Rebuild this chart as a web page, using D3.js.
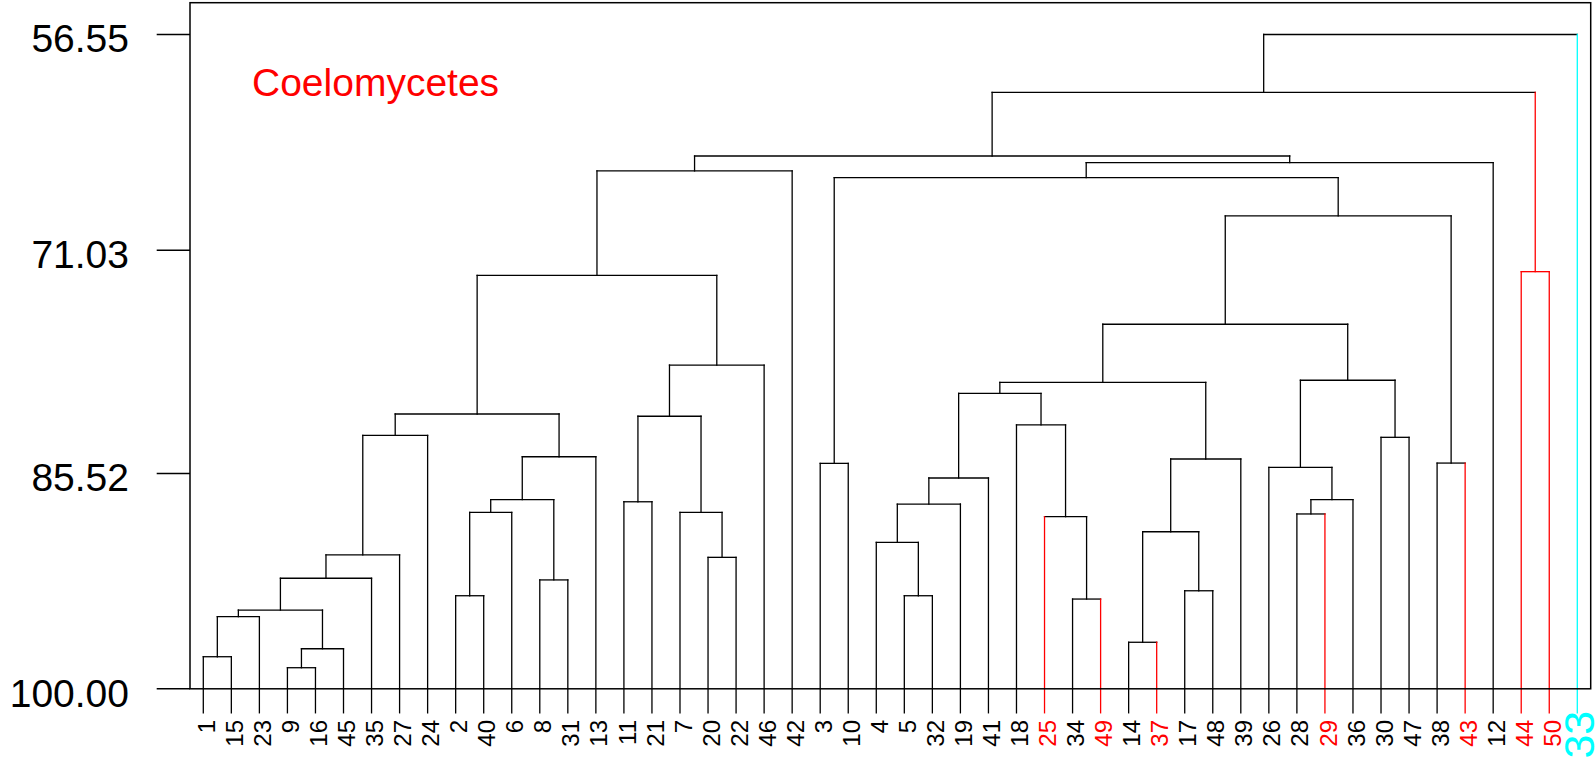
<!DOCTYPE html>
<html>
<head>
<meta charset="utf-8">
<script src="https://cdn.jsdelivr.net/npm/d3@7"></script>
<style>
  html, body { margin: 0; padding: 0; background: #fff; }
  svg { display: block; }
</style>
</head>
<body>
<svg id="chart" width="1596" height="771"></svg>
<script>
// ---- data ----
const leafOrder = [1,15,23,9,16,45,35,27,24,2,40,6,8,31,13,11,21,7,20,22,46,42,3,10,4,5,32,19,41,18,25,34,49,14,37,17,48,39,26,28,29,36,30,47,38,43,12,44,50,33];
// hclust-style merges: negative = leaf label, positive = earlier merge (1-based)
const mergeA = [-1,1,-9,3,2,5,6,7,-2,9,-8,10,12,8,-11,-20,-7,15,18,14,20,-3,-5,-4,24,25,-34,-25,-18,26,-14,-17,31,33,30,-28,36,-26,-30,38,35,-38,41,22,44,21,-44,46,48];
const mergeB = [-15,-23,-16,-45,4,-35,-27,-24,-40,-6,-31,11,-13,13,-21,-22,16,17,-46,19,-42,-10,-32,23,-19,-41,-49,27,28,29,-37,-48,32,-39,34,-29,-36,37,-47,39,40,-43,42,43,-12,45,-50,47,-33];
const mergeHeight = [97.87,95.21,98.60,97.34,94.77,92.66,91.11,83.17,93.82,88.28,92.77,87.44,84.59,81.75,87.58,91.27,88.28,81.90,78.50,72.54,65.61,85.03,93.82,90.27,87.73,86.00,94.04,88.57,82.48,80.38,96.91,93.49,89.57,84.74,79.65,88.39,87.44,85.29,83.30,79.51,75.79,85.01,68.60,66.06,65.06,64.62,72.30,60.39,56.55];
const redLeaves = [25,49,37,29,43,44,50];
const cyanLeaves = [33];
const redMerges = [47];
const tickLabels = ["100.00","85.52","71.03","56.55"];
const tickAt = [100, 85.70, 70.87, 56.55];
const groupTitle = "Coelomycetes";

// ---- styles ----
const RED = "#FF0000", CYAN = "#00FFFF", BLACK = "#000000";
const FONT = "'Liberation Sans', Arial, Helvetica, sans-serif";

const svg = d3.select("#chart");
svg.append("rect").attr("width",1596).attr("height",771).attr("fill","#fff");

const y = d3.scaleLinear().domain([100, 56.55]).range([688.8, 34.5]);
const x = d3.scalePoint().domain(leafOrder).range([203.3, 1577.3]);
const leafHang = 24;

// build nodes
const leaves = {};
leafOrder.forEach(l => {
  leaves[l] = {leaf: true, label: l, x: x(l),
    color: redLeaves.includes(l) ? RED : (cyanLeaves.includes(l) ? CYAN : BLACK)};
});
const merges = [];
function ref(v) { return v < 0 ? leaves[-v] : merges[v - 1]; }
mergeA.forEach((a, i) => {
  const A = ref(a), B = ref(mergeB[i]);
  const node = {leaf: false, a: A, b: B, h: mergeHeight[i], x: (A.x + B.x) / 2,
    color: redMerges.includes(i + 1) ? RED : BLACK};
  A.parent = node; B.parent = node;
  merges.push(node);
});

const g = svg.append("g").attr("fill","none").attr("stroke-width",1.3).attr("stroke-linecap","square");

// horizontal brackets
merges.forEach(m => {
  g.append("line").attr("x1", m.a.x).attr("x2", m.b.x)
    .attr("y1", y(m.h)).attr("y2", y(m.h)).attr("stroke", m.color);
});
// vertical edges
const allNodes = merges.concat(Object.values(leaves));
allNodes.forEach(n => {
  if (!n.parent) return;
  const y0 = y(n.parent.h);
  const y1 = n.leaf ? y(100) + leafHang : y(n.h);
  g.append("line").attr("x1", n.x).attr("x2", n.x)
    .attr("y1", y0).attr("y2", y1).attr("stroke", n.color);
});

// plot box
svg.append("rect").attr("x",190).attr("y",2.7).attr("width",1400.7).attr("height", y(100) - 2.7)
  .attr("fill","none").attr("stroke",BLACK).attr("stroke-width",1.5);

// y axis ticks and labels
tickAt.forEach((v, i) => {
  svg.append("line").attr("x1",156.7).attr("x2",190).attr("y1",y(v)).attr("y2",y(v))
    .attr("stroke",BLACK).attr("stroke-width",1.5);
  svg.append("text").attr("x",129).attr("y",y(v) + 17.8)
    .attr("text-anchor","end").attr("font-family",FONT).attr("font-size",39)
    .attr("fill",BLACK).text(tickLabels[i]);
});

// leaf labels
leafOrder.forEach(l => {
  const big = cyanLeaves.includes(l);
  const fs = big ? 43 : 24;
  const bx = x(l) + (big ? 16.8 : 11.6);
  const ty = big ? 710.7 : 720;
  svg.append("text")
    .attr("transform", `translate(${bx},${ty}) rotate(-90)`)
    .attr("text-anchor","end").attr("font-family",FONT).attr("font-size",fs)
    .attr("fill", leaves[l].color).text(l);
});

// group title
svg.append("text").attr("x",252).attr("y",96).attr("font-family",FONT)
  .attr("font-size",39).attr("fill",RED).text(groupTitle);
</script>
</body>
</html>
